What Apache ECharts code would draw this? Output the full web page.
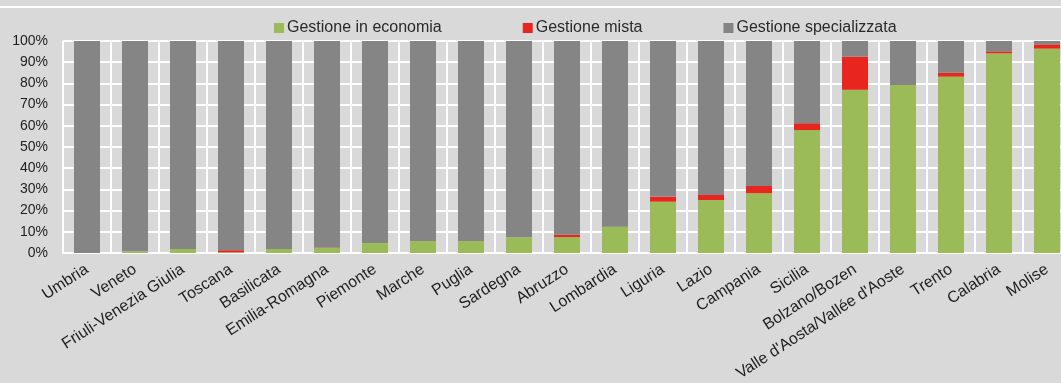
<!DOCTYPE html>
<html>
<head>
<meta charset="utf-8">
<style>
  html, body { margin: 0; padding: 0; background: #d9d9d9; }
  #chart { width: 1061px; height: 383px; }
</style>
<script src="https://cdn.jsdelivr.net/npm/echarts@6/dist/echarts.min.js"></script>
</head>
<body>
<div id="chart"></div>
<script>
// regioni, ordinate per quota di gestione in economia
const regioni = ['Umbria', 'Veneto', 'Friuli-Venezia Giulia', 'Toscana', 'Basilicata',
  'Emilia-Romagna', 'Piemonte', 'Marche', 'Puglia', 'Sardegna', 'Abruzzo', 'Lombardia',
  'Liguria', 'Lazio', 'Campania', 'Sicilia', 'Bolzano/Bozen', "Valle d'Aosta/Vallée d'Aoste",
  'Trento', 'Calabria', 'Molise'];

const economia = [0, 0.8, 1.9, 0.3, 1.9, 2.4, 4.7, 5.7, 5.7, 7.4, 7.5, 12.4,
  24.2, 25.0, 28.2, 58.0, 77.0, 79.2, 83.2, 94.2, 96.4];
const mista = [0, 0, 0, 1.0, 0, 0.2, 0, 0, 0, 0, 1.1, 0,
  2.4, 2.4, 3.4, 3.2, 15.6, 0, 1.8, 0.9, 2.0];
const specializzata = [100, 99.2, 98.1, 98.7, 98.1, 97.4, 95.3, 94.3, 94.3, 92.6, 91.4, 87.6,
  73.4, 72.6, 68.4, 38.8, 7.4, 20.8, 15.0, 4.9, 1.6];

const yTicks = [0, 10, 20, 30, 40, 50, 60, 70, 80, 90, 100];

const font = '"Liberation Sans", Arial, sans-serif';

const chart = echarts.init(document.getElementById('chart'));

const makeSeries = (name, data, color) => ({
  name: name,
  type: 'bar',
  stack: 'tot',
  barWidth: 26,
  itemStyle: { color: color },
  emphasis: { disabled: true },
  data: data,
});

const option = {
  backgroundColor: '#d9d9d9',
  animation: false,
  graphic: [
    {
      type: 'rect',
      left: 0,
      top: 6,
      shape: { width: 1061, height: 2 },
      style: { fill: '#ffffff' },
    },
  ],
  legend: {
    data: ['Gestione in economia', 'Gestione mista', 'Gestione specializzata'],
    left: 269,
    top: 15,
    itemWidth: 10,
    itemHeight: 10,
    itemGap: 81,
    icon: 'rect',
    textStyle: { fontFamily: font, fontSize: 16, color: '#2a2a2a', padding: [0, 0, 0, -2] },
  },
  grid: {
    left: 63,
    top: 41,
    width: 1008,
    height: 212,
    outerBoundsMode: 'none',
  },
  xAxis: {
    type: 'category',
    data: regioni,
    axisTick: { show: false },
    axisLine: { lineStyle: { color: '#ffffff', width: 2 } },
    splitLine: { show: true, lineStyle: { color: '#ffffff', width: 2 } },
    axisLabel: {
      interval: 0,
      rotate: 33,
      margin: 15,
      fontFamily: font,
      fontSize: 16,
      color: '#1e1e1e',
    },
  },
  yAxis: {
    type: 'value',
    min: 0,
    max: 100,
    interval: 10,
    axisLine: { show: false },
    axisTick: { show: false },
    splitLine: { lineStyle: { color: '#ffffff', width: 2 } },
    axisLabel: {
      margin: 15,
      fontFamily: font,
      fontSize: 14,
      color: '#1e1e1e',
      formatter: (v) => (yTicks.includes(v) ? v + '%' : ''),
    },
  },
  series: [
    makeSeries('Gestione in economia', economia, '#9bbb59'),
    makeSeries('Gestione mista', mista, '#e8251e'),
    makeSeries('Gestione specializzata', specializzata, '#858585'),
  ],
};

chart.setOption(option);
</script>
</body>
</html>
